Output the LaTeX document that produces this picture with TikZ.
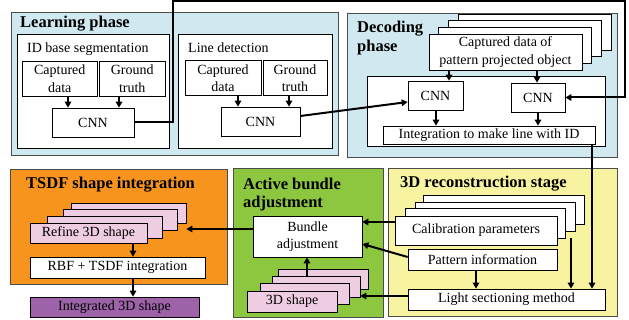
\documentclass[tikz,border=0pt]{standalone}
\usepackage{fontspec}
\setmainfont{Liberation Serif}
\usetikzlibrary{arrows.meta}
\definecolor{lblue}{RGB}{208,232,239}
\definecolor{orng}{RGB}{247,148,29}
\definecolor{grn}{RGB}{141,198,63}
\definecolor{ylw}{RGB}{248,243,160}
\definecolor{pnk}{RGB}{238,204,226}
\definecolor{purp}{RGB}{157,98,168}
\newcommand\mkbox[7]{\node[#1,minimum width={#4-#2},minimum height={#5-#3}] (#6) at ({(#2+#4)/2},{(#3+#5)/2}) {#7};}
\begin{document}
\begin{tikzpicture}[x=1pt,y=-1pt,
 panel/.style={draw=black!70,line width=0.6pt,inner sep=0pt},
 box/.style={draw=black,line width=0.7pt,fill=white,inner sep=0pt,align=center,font=\fontsize{14}{17.5}\selectfont},
 ttl/.style={anchor=base west,inner sep=0pt,font=\fontsize{16.5}{19}\selectfont\bfseries},
 lbl/.style={anchor=base west,inner sep=0pt,font=\fontsize{14}{17.5}\selectfont},
 arr/.style={line width=2pt,-{Triangle[length=6pt,width=6.5pt]}}]
\useasboundingbox (0,0) rectangle (629,320);
% panels
\mkbox{panel,fill=lblue}{11}{12}{338}{155}{learn}{}
\mkbox{panel,fill=lblue}{347}{13}{617}{157}{decode}{}
\mkbox{panel,fill=orng}{10}{169}{227}{284}{tsdf}{}
\mkbox{panel,fill=grn}{233}{168}{383}{317}{aba}{}
\mkbox{panel,fill=ylw}{388}{168}{617}{316}{recon}{}
% titles
\node[ttl] (tlearn) at (20,28) {Learning phase};
\node[ttl] (tdec1) at (357,33) {Decoding};
\node[ttl] (tdec2) at (357,51.5) {phase};
\node[ttl] (ttsdf) at (26,189) {TSDF shape integration};
\node[ttl] (taba1) at (243,189.5) {Active bundle};
\node[ttl] (taba2) at (243,208) {adjustment};
\node[ttl] (trec) at (400,188) {3D reconstruction stage};
% learning phase
\mkbox{box}{17}{34}{169}{148}{idseg}{}
\mkbox{box}{178}{34}{332}{148}{linedet}{}
\node[lbl] (tidseg) at (27,53) {ID base segmentation};
\node[lbl] (tlinedet) at (188,53) {Line detection};
\mkbox{box}{22}{61}{97.5}{96}{cap1}{Captured\\data}
\mkbox{box}{99.5}{61}{165}{96}{gt1}{Ground\\truth}
\mkbox{box}{52}{108}{134}{137}{cnn1}{CNN}
\mkbox{box}{185}{60.5}{261}{95.5}{cap2}{Captured\\data}
\mkbox{box}{263}{60.5}{327}{95.5}{gt2}{Ground\\truth}
\mkbox{box}{221}{107}{300}{136}{cnn2}{CNN}
% decoding phase
\mkbox{box}{458}{14}{611}{50}{cd3}{}
\mkbox{box}{448.4}{20.6}{601.4}{56.6}{cd2}{}
\mkbox{box}{438.7}{27.3}{591.7}{63.3}{cd1}{}
\mkbox{box}{429}{34}{582}{70}{cd0}{Captured data of\\pattern projected object}
\mkbox{box}{367}{76}{605}{146}{decin}{}
\mkbox{box}{408}{81}{463}{110}{cnn3}{CNN}
\mkbox{box}{511}{83}{565}{112}{cnn4}{CNN}
\mkbox{box}{383}{126}{595}{144}{integ}{Integration to make line with ID}
% TSDF
\mkbox{box,fill=pnk}{71}{203}{186}{223}{rf3}{}
\mkbox{box,fill=pnk}{63}{209}{177}{230}{rf2}{}
\mkbox{box,fill=pnk}{47}{216}{162}{238}{rf1}{}
\mkbox{box,fill=pnk}{30}{223}{147}{243}{rf0}{Refine 3D shape}
\mkbox{box}{30}{257}{205}{278}{rbf}{RBF + TSDF integration}
\mkbox{box,fill=purp}{30}{297}{199}{317}{intg}{Integrated 3D shape}
% active bundle adjustment
\mkbox{box}{253}{216}{362}{257}{bundle}{Bundle\\adjustment}
\mkbox{box,fill=pnk}{278}{269}{368}{289}{sh3}{}
\mkbox{box,fill=pnk}{272}{276}{360}{297}{sh2}{}
\mkbox{box,fill=pnk}{260}{283}{349}{304}{sh1}{}
\mkbox{box,fill=pnk}{247}{291}{337}{312}{sh0}{3D shape}
% reconstruction
\mkbox{box}{423}{195}{584}{224}{cp3}{}
\mkbox{box}{415}{202}{575}{231}{cp2}{}
\mkbox{box}{405}{208}{565}{238}{cp1}{}
\mkbox{box}{395}{216}{557}{245}{cp0}{Calibration parameters}
\mkbox{box}{408}{249}{557}{270}{pattern}{Pattern information}
\mkbox{box}{408}{289}{605}{310}{light}{Light sectioning method}
% connectors
\draw[arr] (68,0 |- cap1.south) -- (68,0 |- cnn1.north);
\draw[arr] (119,0 |- gt1.south) -- (119,0 |- cnn1.north);
\draw[arr] (238,0 |- cap2.south) -- (238,0 |- cnn2.north);
\draw[arr] (289,0 |- gt2.south) -- (289,0 |- cnn2.north);
\coordinate (t1) at (173,1.5);
\coordinate (t2) at (625,1.5);
\draw[arr] (cnn1.east) -| (t1) -- (t2) |- (cnn4.east);
\draw[arr] (cnn2.east |- 0,116) -- (cnn3.west |- 0,102);
\draw[arr] (449,0 |- cd0.south) -- (449,0 |- cnn3.north);
\draw[arr] (537,0 |- cd0.south) -- (537,0 |- cnn4.north);
\draw[arr] (436,0 |- cnn3.south) -- (436,0 |- integ.north);
\draw[arr] (538,0 |- cnn4.south) -- (538,0 |- integ.north);
\draw[arr] (592,0 |- integ.south) -- (592,0 |- light.north);
\draw[arr] (571,0 |- cp1.south) -- (571,0 |- light.north);
\draw[arr] (476,0 |- pattern.south) -- (476,0 |- light.north);
\draw[arr] (cp0.west |- 0,222) -- (bundle.east |- 0,222);
\draw[arr] (pattern.west |- 0,257) -- (bundle.east |- 0,244);
\draw[arr] (light.west |- 0,296) -- (sh2.east |- 0,296);
\draw[arr] (bundle.west |- 0,229) -- (rf3.east |- 0,229);
\draw[arr] (307,0 |- sh2.north) -- (307,0 |- bundle.south);
\draw[arr] (133,0 |- rf0.south) -- (133,0 |- rbf.north);
\draw[arr] (133,0 |- rbf.south) -- (133,0 |- intg.north);
\end{tikzpicture}
\end{document}
